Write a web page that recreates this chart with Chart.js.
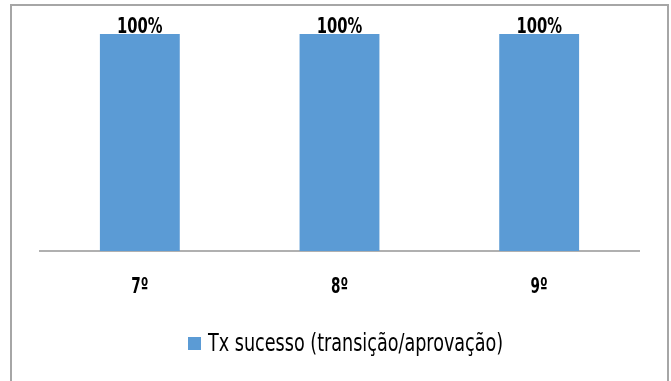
<!DOCTYPE html>
<html>
<head>
<meta charset="utf-8">
<script src="https://cdn.jsdelivr.net/npm/chart.js@4.4.1/dist/chart.umd.min.js"></script>
<style>
    html, body { margin: 0; padding: 0; background: #fff; }
    #wrap { position: relative; width: 671px; height: 381px; overflow: hidden; }
    #frame {
        position: absolute; left: 10px; top: 4px; width: 659px; height: 400px;
        border: 2px solid #a6a6a6; box-sizing: border-box;
    }
    #chart { position: absolute; left: 0; top: 0; }
</style>
</head>
<body>
<div id="wrap">
    <div id="frame"></div>
    <canvas id="chart" width="671" height="381"></canvas>
</div>
<script>
const categories = ['7º', '8º', '9º'];
const seriesName = 'Tx sucesso (transição/aprovação)';
const successRate = [100, 100, 100];

const FONT = '"DejaVu Sans Condensed", "DejaVu Sans", sans-serif';
const BLUE = '#5b9bd5';

// draw squeezed text (the original uses a narrow DIN-like face)
function narrowText(ctx, text, x, y, font, sx, align) {
    ctx.save();
    ctx.font = font;
    ctx.fillStyle = '#000';
    ctx.textBaseline = 'alphabetic';
    ctx.textAlign = align || 'center';
    ctx.translate(x, y);
    ctx.scale(sx, 1);
    ctx.fillText(text, 0, 0);
    ctx.restore();
}

// value labels, category labels and legend
const decorations = {
    id: 'decorations',
    afterDatasetsDraw(chart) {
        const ctx = chart.ctx;
        const meta = chart.getDatasetMeta(0);
        const xScale = chart.scales.x;

        meta.data.forEach((bar, i) => {
            narrowText(ctx, successRate[i] + '%', bar.x, bar.y - 1, 'bold 21px ' + FONT, 0.78);
        });

        categories.forEach((c, i) => {
            narrowText(ctx, xScale.getLabelForValue(i), xScale.getPixelForTick(i), 293, 'bold 21px ' + FONT, 0.72);
        });

        // legend
        const ds = chart.data.datasets[0];
        ctx.save();
        ctx.fillStyle = ds.backgroundColor;
        ctx.fillRect(188, 337, 13, 13);
        ctx.restore();
        narrowText(ctx, ds.label, 208, 351, '24px ' + FONT, 0.815, 'left');
    }
};

let chart;
document.addEventListener('DOMContentLoaded', () => {
    const ctx = document.getElementById('chart').getContext('2d');
    chart = new Chart(ctx, {
        type: 'bar',
        data: {
            labels: categories,
            datasets: [{
                label: seriesName,
                data: successRate,
                backgroundColor: BLUE,
                barPercentage: 0.4,
                categoryPercentage: 1.0
            }]
        },
        options: {
            responsive: false,
            animation: false,
            layout: { padding: { top: 34, left: 40, right: 32, bottom: 130 } },
            scales: {
                x: {
                    grid: { display: false, drawTicks: false },
                    border: { color: '#b0b0b0', width: 2 },
                    ticks: { display: false }
                },
                y: {
                    display: false,
                    min: 0,
                    max: 100
                }
            },
            plugins: {
                legend: { display: false },
                tooltip: { enabled: false }
            }
        },
        plugins: [decorations]
    });
});
</script>
</body>
</html>
